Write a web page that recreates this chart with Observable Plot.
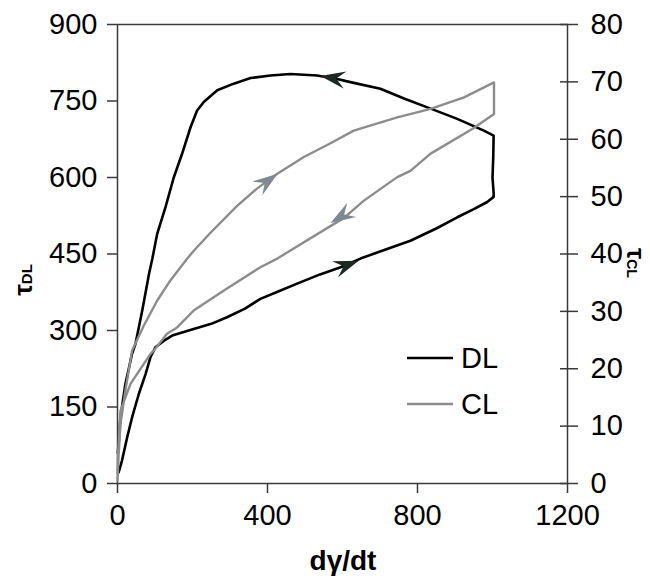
<!DOCTYPE html>
<html><head><meta charset="utf-8">
<script src="https://cdn.jsdelivr.net/npm/d3@7"></script>
<script src="https://cdn.jsdelivr.net/npm/@observablehq/plot@0.6"></script>
<style>body{margin:0;background:#fff}</style>
</head><body><div id="chart"></div>
<script>
// ---- data ----
const seriesNames = ["DL", "CL"];
const xTicks = [0, 400, 800, 1200];
const dlTicks = [0, 150, 300, 450, 600, 750, 900];
const clTicks = [0, 10, 20, 30, 40, 50, 60, 70, 80];

const dlX = [3,12,26,39,57,75,88,101,124,146,203,250,292,340,381,430,479,540,595,648,700,781,850,906,950,986,1003,1003,1000,1002,1003,977,906,835,764,701,621,586,532,461,408,355,310,266,230,212,195,172,150,128,106,93,84,66,48,39,21,8,1];
const dlY = [22,45,91,130,176,215,248,267,280,290,303,313,326,343,362,377,392,410,424,441,455,476,500,522,538,552,562,570,600,640,682,692,715,735,755,774,787,793,800,803,800,795,784,771,748,731,699,646,600,542,490,441,411,339,274,255,195,130,60];

const clX = [0,3,8,21,39,70,106,141,186,204,248,319,372,426,497,568,630,746,835,924,1004,1004,946,835,781,746,657,604,461,426,381,292,204,159,132,97,88,35,8,2,0];
const clY = [0.5,5,10.4,16.2,23.2,27.5,31.9,35.4,39.2,40.6,43.7,48.4,51.4,54,56.9,59.3,61.5,63.8,65.3,67.3,69.9,64.4,61.8,57.5,54.5,53.4,49.3,46.3,40.6,39.2,37.7,34,30.2,27.2,26.1,23.2,22.6,17.4,12.7,6,1.7];

// direction arrows: tip point and a preceding point on the curve
const arrowSeries = ["DL", "DL", "CL", "CL"];
const arrowX = [643, 541, 427, 568];
const arrowY = [437, 799, 54, 45.4];
const arrowFromX = [595, 600, 372, 620];
const arrowFromY = [424, 792, 51.4, 47.5];

// ---- layout ----
const W = 650, H = 579, mL = 117, mR = 83, mT = 24, mB = 96;
const xMax = xTicks[xTicks.length - 1];
const yMax = dlTicks[dlTicks.length - 1];
const k = yMax / clTicks[clTicks.length - 1];
const kx = (W - mL - mR) / xMax, ky = (H - mT - mB) / yMax;

const dl = dlX.map((x, i) => ({x, y: dlY[i]}));
const cl = clX.map((x, i) => ({x, y: clY[i] * k}));
const arrows = arrowX.map((x, i) => {
  const f = arrowSeries[i] === "CL" ? k : 1;
  const y = arrowY[i] * f, x0 = arrowFromX[i], y0 = arrowFromY[i] * f;
  const rot = Math.atan2((x - x0) * kx, (y - y0) * ky) * 180 / Math.PI;
  return {x, y, s: arrowSeries[i], rot};
});

const stealth = {
  draw(ctx) {
    ctx.moveTo(0, 0);
    ctx.lineTo(-8.5, 25);
    ctx.lineTo(0, 16);
    ctx.lineTo(8.5, 25);
    ctx.closePath();
  }
};

const colors = {DL: "#000000", CL: "#8c8c8c"};
const arrowColors = {DL: "#1c2820", CL: "#7e8993"};

const chart = Plot.plot({
  width: W, height: H,
  marginLeft: mL, marginRight: mR, marginTop: mT, marginBottom: mB,
  style: {fontFamily: "'Liberation Sans', Arial, sans-serif", fontSize: "29px", color: "#000", background: "#fff"},
  x: {domain: [0, xMax]},
  y: {domain: [0, yMax]},
  marks: [
    Plot.frame({stroke: "#3a3a3a", strokeWidth: 1.5}),
    Plot.axisX(xTicks, {anchor: "bottom", tickSize: 10, tickPadding: 11, fontSize: 29, label: null, tickFormat: d => String(d), stroke: "#3a3a3a", strokeWidth: 1.5, fill: "#000"}),
    Plot.axisY(dlTicks, {anchor: "left", tickSize: 10, tickPadding: 10, fontSize: 29, label: null, tickFormat: d => String(d), stroke: "#3a3a3a", strokeWidth: 1.5, fill: "#000"}),
    Plot.axisY(clTicks.map(v => v * k), {anchor: "right", tickSize: 18, dx: -8, tickPadding: 13, fontSize: 29, label: null, tickFormat: d => String(Math.round(d / k)), stroke: "#3a3a3a", strokeWidth: 1.5, fill: "#000"}),
    Plot.line(dl, {x: "x", y: "y", stroke: colors.DL, strokeWidth: 2.6}),
    Plot.line(cl, {x: "x", y: "y", stroke: colors.CL, strokeWidth: 2.4}),
    Plot.dot(arrows, {x: "x", y: "y", symbol: stealth, rotate: "rot", fill: d => arrowColors[d.s], stroke: "none", r: 1})
  ]
});

const svg = d3.select(chart);
// x-axis title
svg.append("text").attr("x", 343).attr("y", 570).attr("text-anchor", "middle")
  .attr("font-weight", "bold").attr("font-size", 28).attr("fill", "#000").text("dγ/dt");
// left y title
const lt = svg.append("text").attr("transform", "translate(32,280) rotate(-90)")
  .attr("text-anchor", "middle").attr("font-weight", "bold").attr("fill", "#000");
lt.append("tspan").attr("font-size", 26).text("τ");
lt.append("tspan").attr("font-size", 15).text("DL");
// right y title
const rt = svg.append("text").attr("transform", "translate(627,263) rotate(90)")
  .attr("text-anchor", "middle").attr("font-weight", "bold").attr("fill", "#000");
rt.append("tspan").attr("font-size", 25).text("τ");
rt.append("tspan").attr("font-size", 14).text("CL");
// legend
seriesNames.forEach((name, i) => {
  const y = 358 + i * 46;
  svg.append("line").attr("x1", 407).attr("x2", 453).attr("y1", y).attr("y2", y)
    .attr("stroke", colors[name]).attr("stroke-width", 2.6);
  svg.append("text").attr("x", 461).attr("y", y + 10).attr("text-anchor", "start")
    .attr("font-size", 29).attr("fill", "#000").text(name);
});

document.getElementById("chart").appendChild(chart);
</script>
</body></html>
